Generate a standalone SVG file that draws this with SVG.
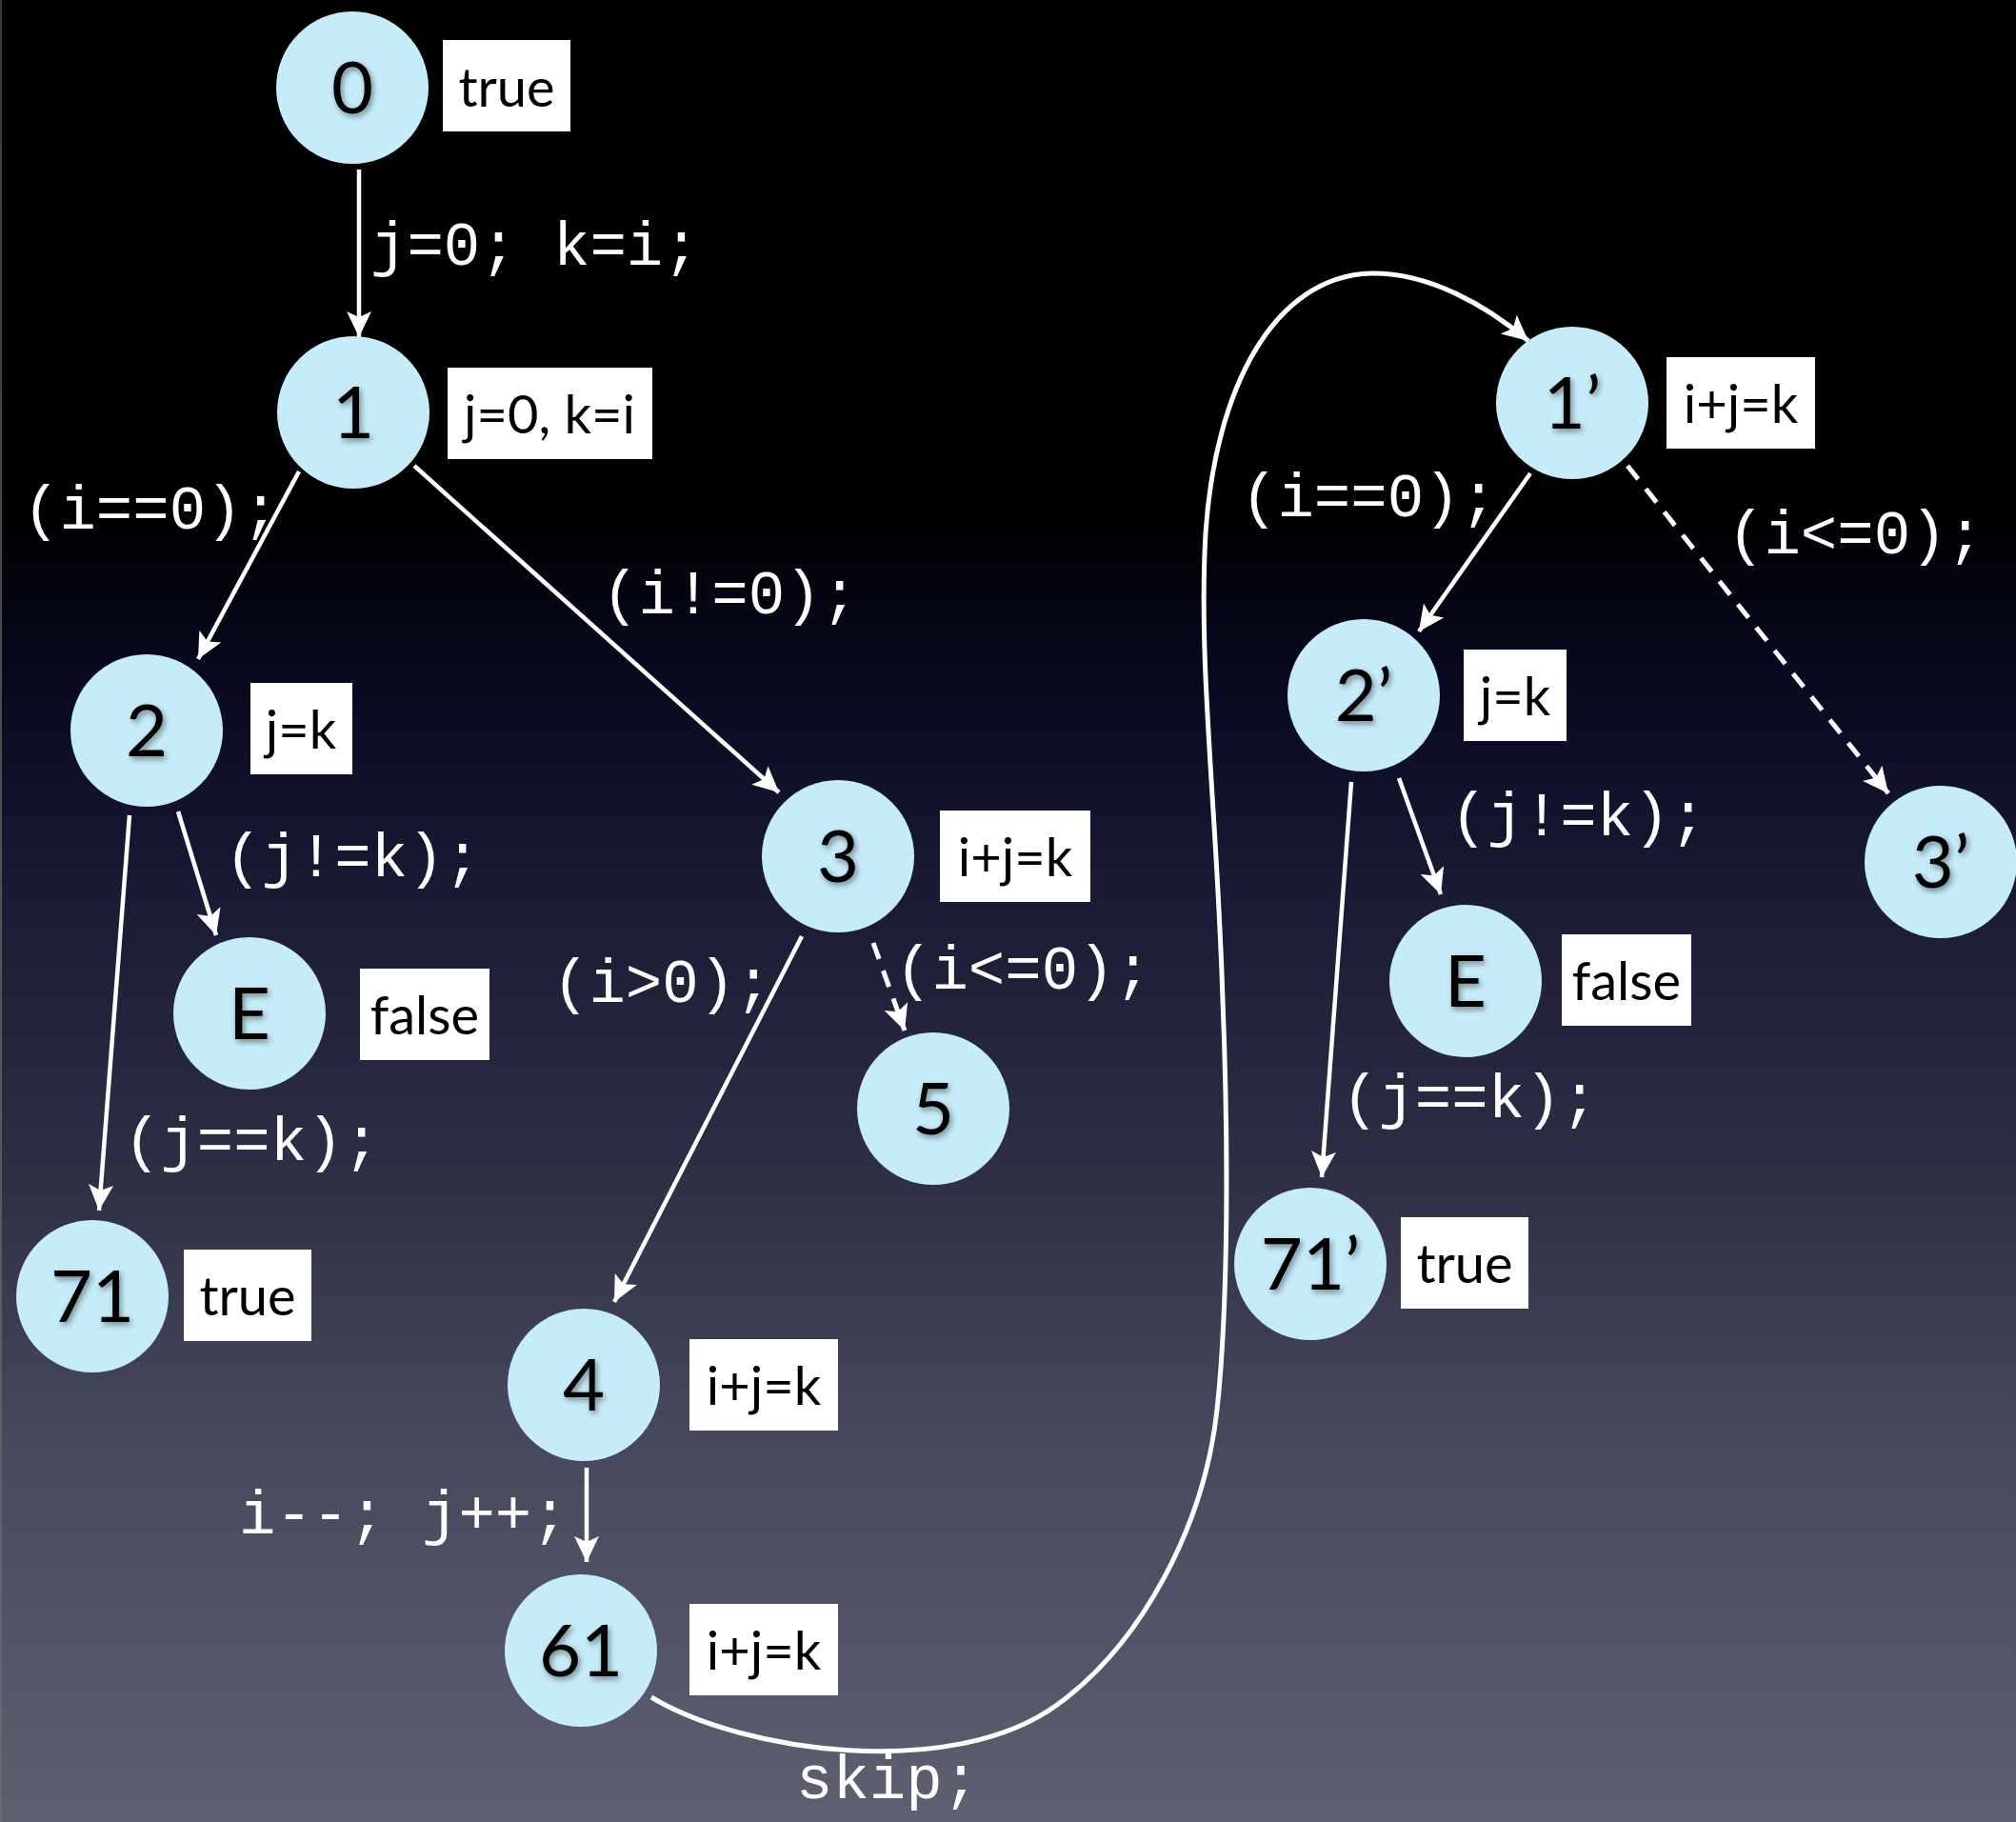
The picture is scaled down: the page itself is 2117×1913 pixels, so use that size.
<svg xmlns="http://www.w3.org/2000/svg" width="2117" height="1913" viewBox="0 0 2117 1913">
  <defs>
    <linearGradient id="bg" x1="0" y1="0" x2="0" y2="1">
      <stop offset="0" stop-color="#000000"/>
      <stop offset="0.28" stop-color="#000000"/>
      <stop offset="0.36" stop-color="#07081c"/>
      <stop offset="0.45" stop-color="#13142e"/>
      <stop offset="0.55" stop-color="#22233b"/>
      <stop offset="0.65" stop-color="#2f3046"/>
      <stop offset="0.78" stop-color="#45475c"/>
      <stop offset="0.9" stop-color="#535467"/>
      <stop offset="1" stop-color="#5e5f70"/>
    </linearGradient>
    <linearGradient id="edge" x1="0" y1="0" x2="0" y2="1">
      <stop offset="0" stop-color="#3a3a3a"/>
      <stop offset="1" stop-color="#6a6a72"/>
    </linearGradient>
    <marker id="arrow" markerUnits="userSpaceOnUse" markerWidth="28" markerHeight="26" refX="27" refY="13" orient="auto" overflow="visible">
      <path d="M0,0 L27,13 L0,26 L6,13 Z" fill="#ffffff"/>
    </marker>
    <filter id="glyphShadow" x="-30%" y="-30%" width="160%" height="160%">
      <feDropShadow dx="2" dy="3" stdDeviation="3" flood-color="#000000" flood-opacity="0.45"/>
    </filter>
  </defs>
  <style>
    .node circle { fill: #c6ecfa; }
    .num { font-family: Lato, "Open Sans", "Liberation Sans", sans-serif; font-size: 76px; fill: #000000; text-anchor: middle; filter: url(#glyphShadow); }
    .box rect { fill: #ffffff; }
    .box text { font-family: Lato, "Open Sans", "Liberation Sans", sans-serif; font-size: 56px; fill: #000000; text-anchor: middle; }
    .edge { fill: none; stroke: #ffffff; stroke-width: 4.5; marker-end: url(#arrow); }
    .dashed { stroke-width: 5; stroke-dasharray: 18 13; }
    .loop { stroke-width: 5; }
    .code { font-family: "Liberation Mono", "DejaVu Sans Mono", monospace; font-size: 64px; fill: #ffffff; }
  </style>

  <!-- backdrop -->
  <rect x="0" y="0" width="2117" height="1913" fill="url(#bg)"/>
  <rect x="0" y="0" width="2" height="1913" fill="url(#edge)"/>

  <!-- transitions -->
  <g id="connectors">
    <line class="edge" x1="377" y1="178" x2="377" y2="354"/>
    <line class="edge" x1="314" y1="495" x2="208" y2="692"/>
    <line class="edge" x1="435" y1="489" x2="818" y2="832"/>
    <line class="edge" x1="136" y1="856" x2="104" y2="1271"/>
    <line class="edge" x1="187" y1="852" x2="227" y2="982"/>
    <line class="edge" x1="842" y1="983" x2="645" y2="1367"/>
    <line class="edge dashed" x1="917" y1="990" x2="950" y2="1082"/>
    <line class="edge" x1="616" y1="1541" x2="616" y2="1640"/>
    <line class="edge" x1="1607" y1="497" x2="1490" y2="663"/>
    <line class="edge dashed" x1="1709" y1="489" x2="1983" y2="833"/>
    <line class="edge" x1="1469" y1="817" x2="1513" y2="939"/>
    <line class="edge" x1="1419" y1="821" x2="1388" y2="1236"/>
    <path class="edge loop" d="M684,1782 C780,1840 1000,1870 1110,1790 C1200,1725 1265,1600 1278,1480 C1290,1370 1290,1200 1284,1050 C1278,850 1258,700 1266,560 C1276,410 1336,290 1440,287 C1500,286 1560,320 1605,358"/>
  </g>

  <!-- statements on the transitions -->
  <g id="edge-labels">
    <text class="code" x="389" y="278">j=0; k=i;</text>
    <text class="code" x="24" y="555">(i==0);</text>
    <text class="code" x="632" y="644">(i!=0);</text>
    <text class="code" x="236" y="920">(j!=k);</text>
    <text class="code" x="130" y="1218">(j==k);</text>
    <text class="code" x="580" y="1052">(i&gt;0);</text>
    <text class="code" x="940" y="1038">(i&lt;=0);</text>
    <text class="code" x="251" y="1610">i--; j++;</text>
    <text class="code" x="836" y="1888">skip;</text>
    <text class="code" x="1303" y="542">(i==0);</text>
    <text class="code" x="1814" y="581">(i&lt;=0);</text>
    <text class="code" x="1523" y="877">(j!=k);</text>
    <text class="code" x="1409" y="1173">(j==k);</text>
  </g>

  <!-- locations with their invariants -->
  <g id="node-0" class="node">
    <circle cx="370" cy="92" r="80"/>
    <text class="num" x="370" y="119">0</text>
    <g class="box"><rect x="465" y="42" width="134" height="96"/><text x="532" y="112">true</text></g>
  </g>
  <g id="node-1" class="node">
    <circle cx="371" cy="433" r="80"/>
    <text class="num" x="371" y="460">1</text>
    <g class="box"><rect x="470" y="386" width="215" height="96"/><text x="577" y="455">j=0, k=i</text></g>
  </g>
  <g id="node-2" class="node">
    <circle cx="154" cy="767" r="80"/>
    <text class="num" x="154" y="794">2</text>
    <g class="box"><rect x="263" y="717" width="107" height="96"/><text x="316" y="786">j=k</text></g>
  </g>
  <g id="node-E" class="node">
    <circle cx="262" cy="1064" r="80"/>
    <text class="num" x="262" y="1091">E</text>
    <g class="box"><rect x="378" y="1017" width="136" height="96"/><text x="446" y="1086">false</text></g>
  </g>
  <g id="node-71" class="node">
    <circle cx="97" cy="1361" r="80"/>
    <text class="num" x="97" y="1388">71</text>
    <g class="box"><rect x="193" y="1312" width="134" height="96"/><text x="260" y="1381">true</text></g>
  </g>
  <g id="node-3" class="node">
    <circle cx="880" cy="899" r="80"/>
    <text class="num" x="880" y="926">3</text>
    <g class="box"><rect x="987" y="851" width="158" height="96"/><text x="1066" y="920">i+j=k</text></g>
  </g>
  <g id="node-5" class="node">
    <circle cx="980" cy="1164" r="80"/>
    <text class="num" x="980" y="1191">5</text>
  </g>
  <g id="node-4" class="node">
    <circle cx="613" cy="1454" r="80"/>
    <text class="num" x="613" y="1481">4</text>
    <g class="box"><rect x="724" y="1406" width="156" height="96"/><text x="802" y="1475">i+j=k</text></g>
  </g>
  <g id="node-61" class="node">
    <circle cx="610" cy="1733" r="80"/>
    <text class="num" x="610" y="1760">61</text>
    <g class="box"><rect x="724" y="1684" width="156" height="96"/><text x="802" y="1753">i+j=k</text></g>
  </g>
  <g id="node-1p" class="node">
    <circle cx="1651" cy="423" r="80"/>
    <text class="num" x="1651" y="450">1’</text>
    <g class="box"><rect x="1750" y="375" width="156" height="96"/><text x="1828" y="444">i+j=k</text></g>
  </g>
  <g id="node-2p" class="node">
    <circle cx="1432" cy="730" r="80"/>
    <text class="num" x="1432" y="757">2’</text>
    <g class="box"><rect x="1537" y="682" width="108" height="96"/><text x="1591" y="751">j=k</text></g>
  </g>
  <g id="node-3p" class="node">
    <circle cx="2038" cy="905" r="80"/>
    <text class="num" x="2038" y="932">3’</text>
  </g>
  <g id="node-Ep" class="node">
    <circle cx="1539" cy="1030" r="80"/>
    <text class="num" x="1539" y="1057">E</text>
    <g class="box"><rect x="1640" y="981" width="136" height="96"/><text x="1708" y="1050">false</text></g>
  </g>
  <g id="node-71p" class="node">
    <circle cx="1376" cy="1327" r="80"/>
    <text class="num" x="1376" y="1354">71’</text>
    <g class="box"><rect x="1471" y="1278" width="134" height="96"/><text x="1538" y="1347">true</text></g>
  </g>
</svg>
